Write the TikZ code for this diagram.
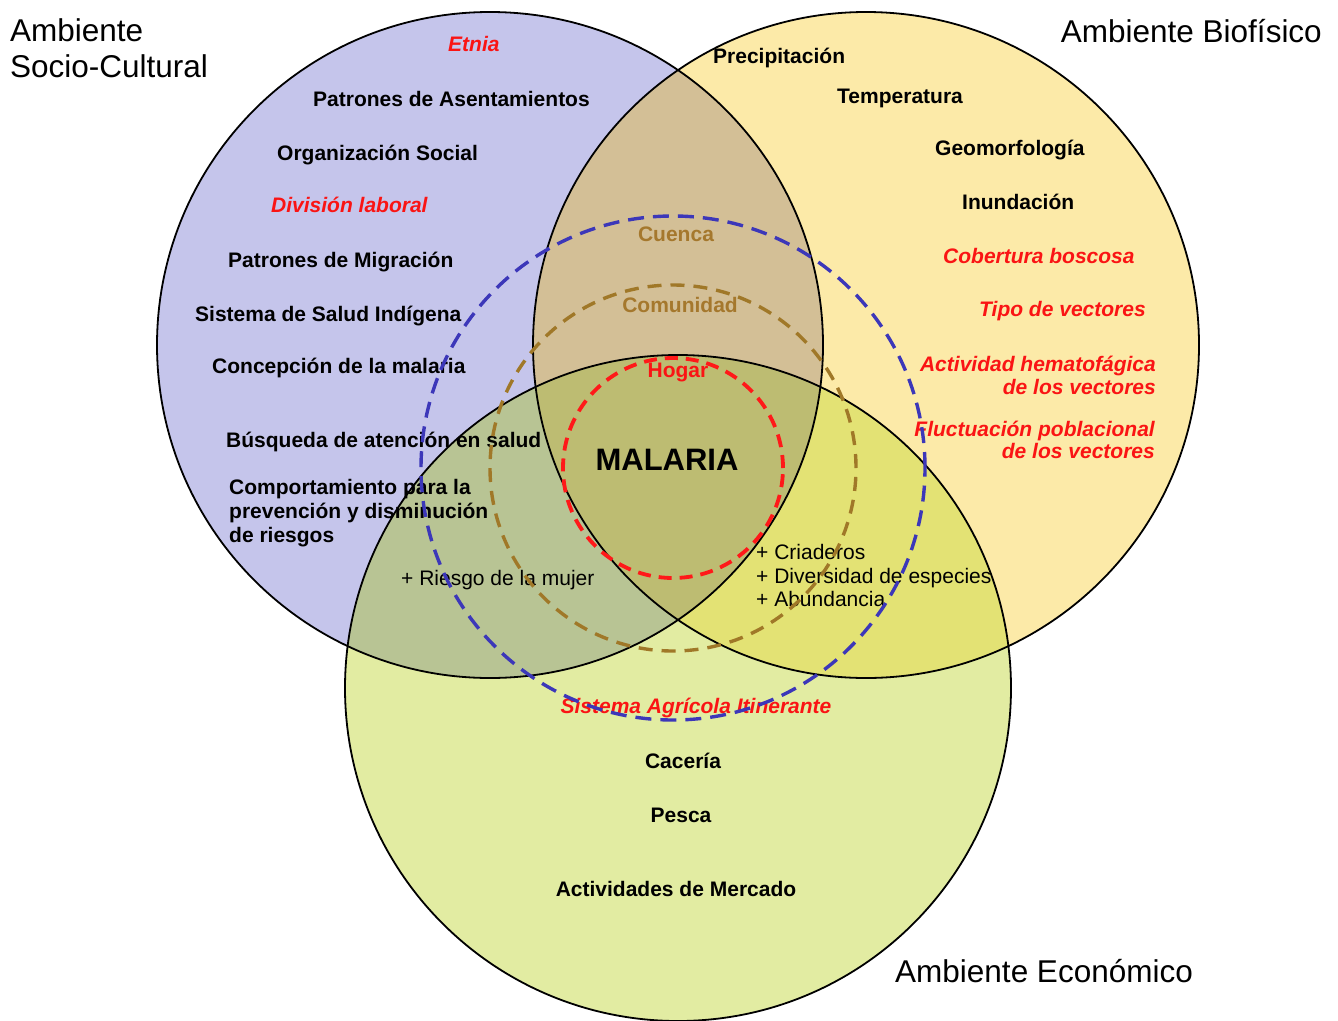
\documentclass[tikz,border=0pt]{standalone}
\usepackage{fontspec}
\setmainfont{Liberation Sans}
\definecolor{purpleC}{RGB}{197,197,235}
\definecolor{yellowC}{RGB}{252,234,168}
\definecolor{greenC}{RGB}{226,236,162}
\definecolor{abC}{RGB}{211,191,150}
\definecolor{acC}{RGB}{184,196,148}
\definecolor{bcC}{RGB}{227,226,116}
\definecolor{abcC}{RGB}{189,188,114}
\definecolor{dashBlue}{RGB}{60,55,185}
\definecolor{dashBrown}{RGB}{160,120,40}
\definecolor{dashRed}{RGB}{255,25,25}
\definecolor{txtRed}{RGB}{250,20,20}
\definecolor{txtBrown}{RGB}{165,120,45}
\begin{document}
\begin{tikzpicture}[x=1pt,y=-1pt,
  lbl/.style={inner sep=0pt, text=black, font=\fontsize{21}{24}\selectfont\bfseries},
  redlbl/.style={inner sep=0pt, text=txtRed, font=\fontsize{21}{24}\selectfont\bfseries\itshape},
  brownlbl/.style={inner sep=0pt, text=txtBrown, font=\fontsize{21}{24}\selectfont\bfseries},
  plainlbl/.style={inner sep=0pt, text=black, font=\fontsize{21}{24}\selectfont},
  titlelbl/.style={inner sep=0pt, text=black, font=\fontsize{31.5}{37}\selectfont},
  ring/.style={draw=black, line width=1.8pt},
  bluering/.style={draw=dashBlue, line width=3.4pt, dash pattern=on 16pt off 9pt},
  brownring/.style={draw=dashBrown, line width=3.4pt, dash pattern=on 14pt off 9pt},
  redring/.style={draw=dashRed, line width=3.8pt, dash pattern=on 13pt off 8pt}]
\useasboundingbox (0,0) rectangle (1338,1020);
\fill[white] (0,0) rectangle (1338,1020);
\coordinate (cA) at (490,345);
\coordinate (cB) at (866,345);
\coordinate (cC) at (678,688);
\coordinate (cD) at (673,468);
% base fills
\fill[purpleC] (cA) circle[radius=333pt];
\fill[yellowC] (cB) circle[radius=333pt];
\fill[greenC] (cC) circle[radius=333pt];
% overlaps
\begin{scope}
  \clip (cA) circle[radius=333pt];
  \fill[abC] (cB) circle[radius=333pt];
  \fill[acC] (cC) circle[radius=333pt];
\end{scope}
\begin{scope}
  \clip (cB) circle[radius=333pt];
  \fill[bcC] (cC) circle[radius=333pt];
\end{scope}
\begin{scope}
  \clip (cA) circle[radius=333pt];
  \clip (cB) circle[radius=333pt];
  \fill[abcC] (cC) circle[radius=333pt];
\end{scope}
% outlines
\draw[ring] (cA) circle[radius=333pt];
\draw[ring] (cB) circle[radius=333pt];
\draw[ring] (cC) circle[radius=333pt];
% titles
\node[titlelbl, anchor=base west] (tA1) at (10,41) {Ambiente};
\node[titlelbl, anchor=base west] (tA2) at (10,77) {Socio-Cultural};
\node[titlelbl, anchor=base east] (tB) at (1322,42) {Ambiente Biofísico};
\node[titlelbl, anchor=base west] (tC) at (895,982) {Ambiente Económico};
% socio-cultural
\node[redlbl, anchor=base west] (s1) at (448,51) {Etnia};
\node[lbl, anchor=base west] (s2) at (313,106) {Patrones de Asentamientos};
\node[lbl, anchor=base west] (s3) at (277,160) {Organización Social};
\node[redlbl, anchor=base west] (s4) at (271,212) {División laboral};
\node[lbl, anchor=base west] (s5) at (228,267) {Patrones de Migración};
\node[lbl, anchor=base west] (s6) at (195,321) {Sistema de Salud Indígena};
\node[lbl, anchor=base west] (s7) at (212,373) {Concepción de la malaria};
\node[lbl, anchor=base west] (s8) at (226,447) {Búsqueda de atención en salud};
\node[lbl, anchor=base west] (s9a) at (229,494) {Comportamiento para la};
\node[lbl, anchor=base west] (s9b) at (229,518) {prevención y disminución};
\node[lbl, anchor=base west] (s9c) at (229,542) {de riesgos};
\node[plainlbl, anchor=base west] (sc) at (401,585) {+ Riesgo de la mujer};
% biofisico
\node[lbl, anchor=base west] (b1) at (713,63) {Precipitación};
\node[lbl, anchor=base west] (b2) at (837,103) {Temperatura};
\node[lbl, anchor=base west] (b3) at (935,155) {Geomorfología};
\node[lbl, anchor=base west] (b4) at (962,209) {Inundación};
\node[redlbl, anchor=base west] (b5) at (943,263) {Cobertura boscosa};
\node[redlbl, anchor=base west] (b6) at (979,316) {Tipo de vectores};
\node[redlbl, anchor=base east] (b7a) at (1156,371) {Actividad hematofágica};
\node[redlbl, anchor=base east] (b7b) at (1156,394) {de los vectores};
\node[redlbl, anchor=base east] (b8a) at (1155,436) {Fluctuación poblacional};
\node[redlbl, anchor=base east] (b8b) at (1155,458) {de los vectores};
\node[plainlbl, anchor=base west] (bc1) at (756,559) {+ Criaderos};
\node[plainlbl, anchor=base west] (bc2) at (756,583) {+ Diversidad de especies};
\node[plainlbl, anchor=base west] (bc3) at (756,606) {+ Abundancia};
% centre
\node[brownlbl, anchor=base] (cu) at (676,241) {Cuenca};
\node[brownlbl, anchor=base] (co) at (680,312) {Comunidad};
\node[inner sep=0pt, text=txtRed, font=\fontsize{21}{24}\selectfont\bfseries, anchor=base] (ho) at (678,377) {Hogar};
\node[inner sep=0pt, font=\fontsize{31}{36}\selectfont\bfseries, anchor=base] (ma) at (667,470) {MALARIA};
% economico
\node[redlbl, anchor=base] (e1) at (696,713) {Sistema Agrícola Itinerante};
\node[lbl, anchor=base] (e2) at (683,768) {Cacería};
\node[lbl, anchor=base] (e3) at (681,822) {Pesca};
\node[lbl, anchor=base] (e4) at (676,896) {Actividades de Mercado};
% dashed rings
\draw[bluering] (cD) circle[radius=252pt];
\draw[brownring] (cD) circle[radius=183pt];
\draw[redring] (cD) circle[radius=110pt];
\end{tikzpicture}
\end{document}
